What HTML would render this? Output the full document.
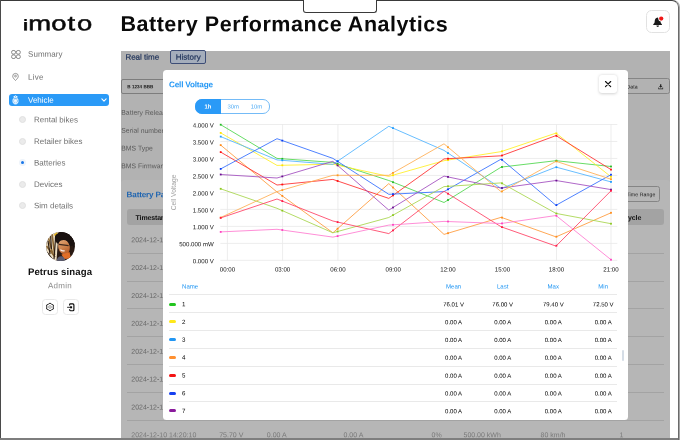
<!DOCTYPE html>
<html lang="en"><head><meta charset="utf-8"><title>Battery Performance Analytics</title>
<style>
html,body{margin:0;padding:0;}
body{width:680px;height:440px;overflow:hidden;background:#fff;position:relative;font-family:"Liberation Sans",sans-serif;}
.t{position:absolute;left:0;top:0;white-space:nowrap;transform-origin:0 0;}
.b{position:absolute;box-sizing:border-box;}
svg{position:absolute;overflow:visible;}
#root{position:absolute;left:0;top:0;width:680px;height:440px;will-change:transform;}
</style></head><body><div id="root">

<div class="t" id="logo" aria-label="imoto" title="imoto" style="left:0;top:0;font-size:20.4px;line-height:25px;color:#0a0a0a;font-weight:400;-webkit-text-stroke:0.5px #0a0a0a;transform-origin:0 0;transform:translate(22.4px,11.3px) rotate(0.03deg) scaleX(1.345);"><span style="letter-spacing:-0.25px">i</span><span style="letter-spacing:0.13px">m</span><span style="letter-spacing:0.8px">o</span><span style="letter-spacing:1.32px">t</span>o</div>
<div class="b" style="left:22.5px;top:13px;width:6px;height:9.2px;background:#fff;"></div>
<div class="b" style="left:24.1px;top:18.5px;width:2.7px;height:2.5px;background:#0a0a0a;border-radius:50%;"></div>
<svg style="left:10.5px;top:50px" width="10" height="9" viewBox="0 0 10 9" fill="none" stroke="#707070" stroke-width="0.8">
<rect x="0.6" y="0.5" width="3.9" height="3.6" rx="1.5"/><rect x="5.4" y="0.5" width="3.9" height="3.6" rx="1.5"/>
<rect x="0.6" y="4.9" width="3.9" height="3.6" rx="1.5"/><rect x="5.4" y="4.9" width="3.9" height="3.6" rx="1.5"/></svg>
<div class="t" style="transform:translate(28px,48.76px) rotate(0.05deg);font-size:8px;line-height:11px;color:#707070;font-weight:400;letter-spacing:0.05px;">Summary</div>
<svg style="left:12px;top:73.4px" width="7" height="8" viewBox="0 0 7 8" fill="none" stroke="#707070" stroke-width="0.7">
<path d="M3.5 7.5 C1.6 5.6 0.7 4.4 0.7 3.2 A2.8 2.8 0 0 1 6.3 3.2 C6.3 4.4 5.4 5.6 3.5 7.5Z"/><circle cx="3.5" cy="3.1" r="0.9"/></svg>
<div class="t" style="transform:translate(28px,71.76px) rotate(0.05deg);font-size:8px;line-height:11px;color:#707070;font-weight:400;letter-spacing:0.25px;">Live</div>
<div class="b" style="left:9px;top:93.8px;width:100.2px;height:12.3px;background:#2a9af7;border-radius:3px;"></div>
<svg style="left:12px;top:95.4px" width="7" height="9.4" viewBox="0 0 7 9.4">
<path d="M3.5 0.2 L6 1.9 L3.5 3.2 L1 1.9Z" fill="#fff"/><circle cx="3.5" cy="1.8" r="0.6" fill="#2a9af7"/>
<circle cx="3.5" cy="5.9" r="3.1" fill="#fff" fill-opacity="0.85"/><circle cx="3.5" cy="5.9" r="2.2" fill="none" stroke="#2a9af7" stroke-width="0.6" stroke-dasharray="1 0.9"/>
<circle cx="3.5" cy="5.3" r="0.55" fill="#fff"/><path d="M2.4 3.6 H4.6" stroke="#2a9af7" stroke-width="0.6"/>
<path d="M2.3 9 H4.7" stroke="#fff" stroke-width="0.7"/></svg>
<div class="t" style="transform:translate(28px,94.66px) rotate(0.05deg);font-size:8px;line-height:11px;color:#fff;font-weight:400;">Vehicle</div>
<svg style="left:101px;top:98px" width="6" height="4.3" viewBox="0 0 7 5" fill="none" stroke="#fff" stroke-width="1.25" stroke-linecap="round" stroke-linejoin="round"><path d="M1 1 L3.5 3.6 L6 1"/></svg>
<div class="b" style="left:19.2px;top:116.1px;width:7px;height:7px;border-radius:50%;background:#ebebeb;border:0.6px solid #e0e0e0;"></div>
<div class="t" style="transform:translate(34px,114.36px) rotate(0.05deg);font-size:8px;line-height:11px;color:#707070;font-weight:400;">Rental bikes</div>
<div class="b" style="left:19.2px;top:137.8px;width:7px;height:7px;border-radius:50%;background:#ebebeb;border:0.6px solid #e0e0e0;"></div>
<div class="t" style="transform:translate(34px,136.06px) rotate(0.05deg);font-size:8px;line-height:11px;color:#707070;font-weight:400;">Retailer bikes</div>
<div class="b" style="left:19.2px;top:159.3px;width:7px;height:7px;border-radius:50%;background:#eef4fb;"></div>
<div class="b" style="left:21.0px;top:161.10000000000002px;width:3.4px;height:3.4px;border-radius:50%;background:#1976e8;"></div>
<div class="t" style="transform:translate(34px,157.56px) rotate(0.05deg);font-size:8px;line-height:11px;color:#707070;font-weight:400;">Batteries</div>
<div class="b" style="left:19.2px;top:180.7px;width:7px;height:7px;border-radius:50%;background:#ebebeb;border:0.6px solid #e0e0e0;"></div>
<div class="t" style="transform:translate(34px,178.96px) rotate(0.05deg);font-size:8px;line-height:11px;color:#707070;font-weight:400;">Devices</div>
<div class="b" style="left:19.2px;top:202.1px;width:7px;height:7px;border-radius:50%;background:#ebebeb;border:0.6px solid #e0e0e0;"></div>
<div class="t" style="transform:translate(34px,200.36px) rotate(0.05deg);font-size:8px;line-height:11px;color:#707070;font-weight:400;">Sim details</div>
<svg style="left:46px;top:232px" width="29" height="29" viewBox="0 0 29 29">
<defs><clipPath id="av"><circle cx="14.5" cy="14.5" r="14.4"/></clipPath>
<linearGradient id="sk" x1="0" y1="0" x2="0.3" y2="1"><stop offset="0" stop-color="#e0a878"/><stop offset="0.55" stop-color="#cf8650"/><stop offset="1" stop-color="#b8602c"/></linearGradient></defs>
<g clip-path="url(#av)">
<rect width="29" height="29" fill="#2a1a13"/>
<path d="M0 0 H12.5 L10.5 29 H0Z" fill="#eadcc0"/>
<path d="M2.5 6 L6.5 21 M6 1 L8.6 23 M0.5 14 L9 25" stroke="#8a6633" stroke-width="1.6" fill="none"/>
<path d="M4.6 3 L5.4 17 M9.8 3 L8 27 M2 9 L4 22 M1 20 L7 28" stroke="#2b1c12" stroke-width="1.2" fill="none"/>
<path d="M7.5 3 L11 0 L12.3 5.5Z" fill="#e6b422"/>
<ellipse cx="19.6" cy="7.2" rx="10.8" ry="7.6" transform="rotate(10 19.6 7.2)" fill="#1a1210"/>
<ellipse cx="18" cy="15" rx="5.7" ry="7.6" transform="rotate(-12 18 15)" fill="url(#sk)"/>
<path d="M10.8 11.2 Q17 4.6 26.5 11.8 L28 18 L29 6 L20 0 L10 4Z" fill="#1a1210"/>
<path d="M13 12.4 L22.6 13.6" stroke="#3e281c" stroke-width="1.1"/>
<path d="M14.4 17.6 Q16.2 19.6 18.6 18.6" stroke="#fbf1ea" stroke-width="1.3" fill="none"/>
<path d="M15.5 22.5 L23.5 20 L25 26.5 L18 27Z" fill="#e06e28"/>
<path d="M10.5 29 Q11.5 24 15.5 24.3 Q18.5 24.8 19.5 29Z" fill="#5c5e72"/>
</g></svg>
<div class="t" style="transform:translate(60px,265.01px) translateX(-50%) rotate(0.05deg);font-size:9.6px;line-height:13px;color:#111;font-weight:700;letter-spacing:0.1px;">Petrus sinaga</div>
<div class="t" style="transform:translate(60px,280.16px) translateX(-50%) rotate(0.05deg);font-size:8px;line-height:11px;color:#8a8a8a;font-weight:400;letter-spacing:0.25px;">Admin</div>
<div class="b" style="left:42.3px;top:299.3px;width:15.6px;height:15.6px;border:1px solid #e8e8e8;border-radius:3.5px;background:#fff;"></div>
<div class="b" style="left:63.2px;top:299.3px;width:15.6px;height:15.6px;border:1px solid #e8e8e8;border-radius:3.5px;background:#fff;"></div>
<svg style="left:45.8px;top:302.9px" width="8" height="8" viewBox="0 0 8 8" fill="none" stroke="#111" stroke-width="0.9">
<path d="M4.00 0.05 L5.60 1.23 L7.42 2.03 L7.20 4.00 L7.42 5.97 L5.60 6.77 L4.00 7.95 L2.40 6.77 L0.58 5.97 L0.80 4.00 L0.58 2.02 L2.40 1.23Z" stroke-linejoin="round"/>
<circle cx="4" cy="4" r="1.35" stroke="#555" stroke-width="0.55"/></svg>
<svg style="left:66px;top:302.6px" width="10" height="9" viewBox="0 0 10 9" fill="none" stroke="#0a0a0a" stroke-width="1.15">
<path d="M3.6 2.4 V1.8 Q3.6 0.9 4.5 0.9 H6.9 Q7.9 0.9 7.9 1.9 V6.7 Q7.9 7.7 6.9 7.7 H4.5 Q3.6 7.7 3.6 6.8 V6.2"/>
<path d="M1.1 4.3 H5" stroke="#333" stroke-width="1"/><rect x="4.1" y="3.3" width="2" height="2" fill="#0a0a0a" stroke="none"/></svg>
<div class="t" style="transform:translate(120.4px,11.10px) rotate(0.05deg);font-size:21.5px;line-height:26px;color:#0a0a0a;font-weight:700;letter-spacing:0.54px;">Battery Performance Analytics</div>
<div class="b" style="left:646.4px;top:10px;width:23.4px;height:23.3px;border:1px solid #e2e2e2;border-radius:5.5px;background:#fff;"></div>
<svg style="left:652px;top:16px" width="13" height="12" viewBox="0 0 13 12">
<path d="M5.6 1.6 C3.6 1.9 2.7 3.6 2.7 5.2 C2.7 7 1.9 7.6 1.2 8.4 V9 H10 V8.4 C9.3 7.6 8.6 7 8.6 5.2 C8.6 4.6 8.5 4.2 8.4 3.8 Z" fill="#1a1a1a"/>
<path d="M4.4 9.6 A1.3 1.3 0 0 0 7 9.6Z" fill="#1a1a1a"/>
<circle cx="9.2" cy="2.6" r="2.9" fill="#fff"/><circle cx="9.2" cy="2.6" r="2.15" fill="#f01818"/></svg>
<div class="b" style="left:121px;top:50.8px;width:549px;height:390px;background:#b2b2b2;"></div>
<div class="t" style="transform:translate(125.4px,51.76px) rotate(0.05deg);font-size:8px;line-height:11px;color:#1c3058;font-weight:400;-webkit-text-stroke:0.2px #1c3058;">Real time</div>
<div class="b" style="left:170.2px;top:50.4px;width:35.8px;height:13.5px;border:1px solid #3d4d76;border-radius:2px;background:#a4adbb;"></div>
<div class="t" style="transform:translate(188.2px,51.76px) translateX(-50%) rotate(0.05deg);font-size:8px;line-height:11px;color:#1c3058;font-weight:400;-webkit-text-stroke:0.2px #1c3058;">History</div>
<div class="b" style="left:121px;top:78.6px;width:60px;height:15px;border:1px solid #7d7d7d;border-radius:2px;background:#b2b2b2;"></div>
<div class="t" style="transform:translate(127.3px,83.19px) rotate(0.05deg);font-size:4.6px;line-height:7px;color:#222;font-weight:700;">B 1234 BBB</div>
<div class="b" style="left:600px;top:78.3px;width:69.6px;height:15.6px;border:1px solid #858585;border-radius:2.5px;background:#b2b2b2;"></div>
<div class="t" style="transform:translate(626.6px,82.59px) rotate(0.05deg);font-size:5.2px;line-height:8px;color:#1a1a1a;font-weight:400;">Data</div>
<svg style="left:657.9px;top:84.1px" width="5.4" height="5.4" viewBox="0 0 6 6" fill="#222"><path d="M2.3 0.2 H3.7 V2.2 H4.9 L3 4.2 L1.1 2.2 H2.3Z"/><path d="M0.3 4 H1 V5.1 H5 V4 H5.7 V5.8 H0.3Z"/></svg>
<div class="t" style="transform:translate(121.3px,107.86px) rotate(0.05deg);font-size:6.85px;line-height:9px;color:#5a5a5a;font-weight:400;">Battery Release</div>
<div class="t" style="transform:translate(121.3px,125.86px) rotate(0.05deg);font-size:6.85px;line-height:9px;color:#5a5a5a;font-weight:400;">Serial number</div>
<div class="t" style="transform:translate(121.3px,143.56px) rotate(0.05deg);font-size:6.85px;line-height:9px;color:#5a5a5a;font-weight:400;">BMS Type</div>
<div class="t" style="transform:translate(121.3px,161.16px) rotate(0.05deg);font-size:6.85px;line-height:9px;color:#5a5a5a;font-weight:400;">BMS Firmware</div>
<div class="b" style="left:121px;top:179.6px;width:549px;height:262px;background:#b6b6b6;border-radius:3px 3px 0 0;"></div>
<div class="t" style="transform:translate(126.6px,189.19px) rotate(0.05deg);font-size:8.1px;line-height:11px;color:#2065b0;font-weight:700;letter-spacing:-0.15px;">Battery Pack</div>
<div class="b" style="left:600px;top:186.1px;width:59.6px;height:15.6px;border:1px solid #858585;border-radius:2.5px;"></div>
<div class="t" style="transform:translate(626.4px,190.19px) rotate(0.05deg);font-size:5.2px;line-height:8px;color:#1a1a1a;font-weight:400;letter-spacing:0.1px;">Time Range</div>
<div class="b" style="left:126.6px;top:209.1px;width:537.4px;height:16.2px;background:#a3a3a3;border-radius:3px;"></div>
<div class="t" style="transform:translate(135.6px,212.91px) rotate(0.05deg);font-size:7.0px;line-height:9px;color:#111;font-weight:700;letter-spacing:-0.15px;">Timestamp</div>
<div class="t" style="transform:translate(623.2px,212.91px) rotate(0.05deg);font-size:7.0px;line-height:9px;color:#111;font-weight:700;letter-spacing:-0.15px;">Cycle</div>
<div class="t" style="transform:translate(131.3px,235.22px) rotate(0.05deg);font-size:7px;line-height:9px;color:#686868;font-weight:400;">2024-12-10 14:20:10</div>
<div class="b" style="left:126.8px;top:252.65px;width:537.5px;height:0.85px;background:#a3a3a3;"></div>
<div class="t" style="transform:translate(131.3px,263.09px) rotate(0.05deg);font-size:7px;line-height:9px;color:#686868;font-weight:400;">2024-12-10 14:20:10</div>
<div class="b" style="left:126.8px;top:280.53000000000003px;width:537.5px;height:0.85px;background:#a3a3a3;"></div>
<div class="t" style="transform:translate(131.3px,290.96px) rotate(0.05deg);font-size:7px;line-height:9px;color:#686868;font-weight:400;">2024-12-10 14:20:10</div>
<div class="b" style="left:126.8px;top:308.41px;width:537.5px;height:0.85px;background:#a3a3a3;"></div>
<div class="t" style="transform:translate(131.3px,318.83px) rotate(0.05deg);font-size:7px;line-height:9px;color:#686868;font-weight:400;">2024-12-10 14:20:10</div>
<div class="b" style="left:126.8px;top:336.29px;width:537.5px;height:0.85px;background:#a3a3a3;"></div>
<div class="t" style="transform:translate(131.3px,346.70px) rotate(0.05deg);font-size:7px;line-height:9px;color:#686868;font-weight:400;">2024-12-10 14:20:10</div>
<div class="b" style="left:126.8px;top:364.17px;width:537.5px;height:0.85px;background:#a3a3a3;"></div>
<div class="t" style="transform:translate(131.3px,374.56px) rotate(0.05deg);font-size:7px;line-height:9px;color:#686868;font-weight:400;">2024-12-10 14:20:10</div>
<div class="b" style="left:126.8px;top:392.05px;width:537.5px;height:0.85px;background:#a3a3a3;"></div>
<div class="t" style="transform:translate(131.3px,402.44px) rotate(0.05deg);font-size:7px;line-height:9px;color:#686868;font-weight:400;">2024-12-10 14:20:10</div>
<div class="b" style="left:126.8px;top:419.93px;width:537.5px;height:0.85px;background:#a3a3a3;"></div>
<div class="t" style="transform:translate(131.3px,430.31px) rotate(0.05deg);font-size:7px;line-height:9px;color:#787878;font-weight:400;">2024-12-10 14:20:10</div>
<div class="t" style="transform:translate(219.2px,430.31px) rotate(0.05deg);font-size:7px;line-height:9px;color:#787878;font-weight:400;">75.70 V</div>
<div class="t" style="transform:translate(266.8px,430.31px) rotate(0.05deg);font-size:7px;line-height:9px;color:#787878;font-weight:400;">0.00 A</div>
<div class="t" style="transform:translate(343.5px,430.31px) rotate(0.05deg);font-size:7px;line-height:9px;color:#787878;font-weight:400;">0.00 A</div>
<div class="t" style="transform:translate(431.5px,430.31px) rotate(0.05deg);font-size:7px;line-height:9px;color:#787878;font-weight:400;">0%</div>
<div class="t" style="transform:translate(463.5px,430.31px) rotate(0.05deg);font-size:7px;line-height:9px;color:#787878;font-weight:400;">500.00 kWh</div>
<div class="t" style="transform:translate(540.6px,430.31px) rotate(0.05deg);font-size:7px;line-height:9px;color:#787878;font-weight:400;">80 km/h</div>
<div class="t" style="transform:translate(619.4px,430.31px) rotate(0.05deg);font-size:7px;line-height:9px;color:#787878;font-weight:400;">1</div>
<div class="b" style="left:163.2px;top:69.5px;width:464.5px;height:350.6px;background:#fff;border-radius:3.5px;"></div>
<div class="t" style="transform:translate(169px,79.13px) rotate(0.05deg);font-size:8.2px;line-height:11px;color:#2598f5;font-weight:700;letter-spacing:-0.2px;">Cell Voltage</div>
<div class="b" style="left:598.8px;top:74.9px;width:18.6px;height:18px;background:#fff;border-radius:3px;box-shadow:0 0.5px 3px rgba(0,0,0,0.18);"></div>
<svg style="left:604.9px;top:80.8px" width="6.2" height="6.2" viewBox="0 0 6.2 6.2" stroke="#111" stroke-width="1.15" stroke-linecap="round"><path d="M0.5 0.5 L5.7 5.7 M5.7 0.5 L0.5 5.7"/></svg>
<div class="b" style="left:195px;top:98.5px;width:75px;height:15.7px;border:1px solid #74bbf7;border-radius:7px;background:#fff;"></div>
<div class="b" style="left:195px;top:98.5px;width:25.6px;height:15.7px;background:#2a9af7;border-radius:7px 0 0 7px;"></div>
<div class="t" style="transform:translate(208px,102.44px) translateX(-50%) rotate(0.05deg);font-size:5.9px;line-height:8px;color:#fff;font-weight:700;">1h</div>
<div class="t" style="transform:translate(233.2px,102.44px) translateX(-50%) rotate(0.05deg);font-size:5.9px;line-height:8px;color:#4fabf5;font-weight:400;">30m</div>
<div class="t" style="transform:translate(256.5px,102.44px) translateX(-50%) rotate(0.05deg);font-size:5.9px;line-height:8px;color:#4fabf5;font-weight:400;">10m</div>
<svg style="left:0;top:0" width="680" height="440" viewBox="0 0 680 440">
<g stroke="#e9e9e9" stroke-width="0.8" fill="none">
<path d="M220.3 124.50 H617.3"/>
<path d="M220.3 141.48 H617.3"/>
<path d="M220.3 158.46 H617.3"/>
<path d="M220.3 175.44 H617.3"/>
<path d="M220.3 192.42 H617.3"/>
<path d="M220.3 209.40 H617.3"/>
<path d="M220.3 226.38 H617.3"/>
<path d="M220.3 243.36 H617.3"/>
<path d="M220.3 260.34 H617.3"/>
<path d="M227.40 124.2 V260.6"/>
<path d="M282.60 124.2 V260.6"/>
<path d="M337.90 124.2 V260.6"/>
<path d="M393.20 124.2 V260.6"/>
<path d="M447.90 124.2 V260.6"/>
<path d="M502.40 124.2 V260.6"/>
<path d="M556.50 124.2 V260.6"/>
<path d="M611.00 124.2 V260.6"/>
</g>
<g fill="none" stroke-width="0.85" stroke-linejoin="round">
<path d="M220.7 124.7 L277.0 158.4 L332.9 162.4 L388.8 180.5 L444.0 202.5 L501.2 167.1 L556.0 160.7 L611.0 166.5" stroke="#4cd64a"/>
<path d="M220.7 132.9 L277.0 165.4 L332.9 164.2 L388.8 176.4 L444.0 160.7 L501.2 151.6 L556.0 133.1 L611.0 176.8" stroke="#ffee22"/>
<path d="M220.7 136.6 L277.0 159.9 L332.9 164.4 L388.8 126.3 L444.0 150.4 L501.2 188.5 L556.0 167.1 L611.0 181.9" stroke="#4db2ff"/>
<path d="M220.7 145.1 L277.0 192.0 L332.9 232.8 L388.8 183.6 L444.0 234.4 L501.2 217.3 L556.0 236.9 L611.0 212.8" stroke="#ff9838"/>
<path d="M220.7 152.1 L277.0 185.0 L332.9 179.4 L388.8 198.4 L444.0 158.9 L501.2 155.8 L556.0 135.6 L611.0 169.6" stroke="#ff2a2a"/>
<path d="M220.7 168.9 L277.0 138.7 L332.9 158.4 L388.8 194.3 L444.0 191.6 L501.2 159.1 L556.0 205.3 L611.0 174.7" stroke="#2f6bff"/>
<path d="M220.7 174.5 L277.0 178.0 L332.9 161.3 L388.8 210.1 L444.0 176.1 L501.2 188.1 L556.0 180.5 L611.0 189.6" stroke="#a04cbe"/>
<path d="M220.7 188.8 L277.0 208.3 L332.9 232.8 L388.8 217.5 L444.0 186.6 L501.2 182.9 L556.0 213.4 L611.0 223.7" stroke="#a6d44a"/>
<path d="M220.7 217.5 L277.0 191.6 L332.9 175.3 L388.8 175.3 L444.0 143.8 L501.2 191.8 L556.0 161.3 L611.0 179.2" stroke="#ffae52"/>
<path d="M220.7 217.9 L277.0 199.0 L332.9 221.0 L388.8 233.6 L444.0 191.2 L501.2 226.8 L556.0 246.1 L611.0 190.8" stroke="#ff3f62"/>
<path d="M220.7 231.9 L277.0 229.3 L332.9 237.1 L388.8 225.1 L444.0 221.4 L501.2 223.5 L556.0 215.5 L611.0 259.7" stroke="#ff7ad0"/>
</g>
<g fill="#22bb22">
<rect x="219.8" y="123.8" width="1.8" height="1.8"/>
<rect x="281.4" y="157.9" width="1.8" height="1.8"/>
<rect x="336.7" y="163.0" width="1.8" height="1.8"/>
<rect x="392.1" y="181.3" width="1.8" height="1.8"/>
<rect x="447.1" y="199.1" width="1.8" height="1.8"/>
<rect x="501.1" y="166.1" width="1.8" height="1.8"/>
<rect x="555.5" y="159.8" width="1.8" height="1.8"/>
<rect x="610.1" y="165.6" width="1.8" height="1.8"/>
</g>
<g fill="#ffe100">
<rect x="219.8" y="132.0" width="1.8" height="1.8"/>
<rect x="281.4" y="164.4" width="1.8" height="1.8"/>
<rect x="336.7" y="164.3" width="1.8" height="1.8"/>
<rect x="392.1" y="174.3" width="1.8" height="1.8"/>
<rect x="447.1" y="159.2" width="1.8" height="1.8"/>
<rect x="501.1" y="150.4" width="1.8" height="1.8"/>
<rect x="555.5" y="132.5" width="1.8" height="1.8"/>
<rect x="610.1" y="175.9" width="1.8" height="1.8"/>
</g>
<g fill="#1e9bff">
<rect x="219.8" y="135.7" width="1.8" height="1.8"/>
<rect x="281.4" y="159.4" width="1.8" height="1.8"/>
<rect x="336.7" y="160.3" width="1.8" height="1.8"/>
<rect x="392.1" y="127.2" width="1.8" height="1.8"/>
<rect x="447.1" y="152.2" width="1.8" height="1.8"/>
<rect x="501.1" y="187.3" width="1.8" height="1.8"/>
<rect x="555.5" y="166.3" width="1.8" height="1.8"/>
<rect x="610.1" y="181.0" width="1.8" height="1.8"/>
</g>
<g fill="#ff8c1a">
<rect x="219.8" y="144.2" width="1.8" height="1.8"/>
<rect x="281.4" y="195.0" width="1.8" height="1.8"/>
<rect x="336.7" y="227.8" width="1.8" height="1.8"/>
<rect x="392.1" y="186.6" width="1.8" height="1.8"/>
<rect x="447.1" y="232.3" width="1.8" height="1.8"/>
<rect x="501.1" y="216.7" width="1.8" height="1.8"/>
<rect x="555.5" y="235.8" width="1.8" height="1.8"/>
<rect x="610.1" y="211.9" width="1.8" height="1.8"/>
</g>
<g fill="#ff1010">
<rect x="219.8" y="151.2" width="1.8" height="1.8"/>
<rect x="281.4" y="183.6" width="1.8" height="1.8"/>
<rect x="336.7" y="180.1" width="1.8" height="1.8"/>
<rect x="392.1" y="194.5" width="1.8" height="1.8"/>
<rect x="447.1" y="157.8" width="1.8" height="1.8"/>
<rect x="501.1" y="154.6" width="1.8" height="1.8"/>
<rect x="555.5" y="134.9" width="1.8" height="1.8"/>
<rect x="610.1" y="168.7" width="1.8" height="1.8"/>
</g>
<g fill="#0a3cf0">
<rect x="219.8" y="168.0" width="1.8" height="1.8"/>
<rect x="281.4" y="139.7" width="1.8" height="1.8"/>
<rect x="336.7" y="160.5" width="1.8" height="1.8"/>
<rect x="392.1" y="193.2" width="1.8" height="1.8"/>
<rect x="447.1" y="188.4" width="1.8" height="1.8"/>
<rect x="501.1" y="158.9" width="1.8" height="1.8"/>
<rect x="555.5" y="204.2" width="1.8" height="1.8"/>
<rect x="610.1" y="173.8" width="1.8" height="1.8"/>
</g>
<g fill="#6a1090">
<rect x="219.8" y="173.6" width="1.8" height="1.8"/>
<rect x="281.4" y="175.5" width="1.8" height="1.8"/>
<rect x="336.7" y="164.5" width="1.8" height="1.8"/>
<rect x="392.1" y="206.6" width="1.8" height="1.8"/>
<rect x="447.1" y="176.0" width="1.8" height="1.8"/>
<rect x="501.1" y="187.1" width="1.8" height="1.8"/>
<rect x="555.5" y="179.7" width="1.8" height="1.8"/>
<rect x="610.1" y="188.7" width="1.8" height="1.8"/>
</g>
<g fill="#8cc820">
<rect x="219.8" y="187.9" width="1.8" height="1.8"/>
<rect x="281.4" y="209.7" width="1.8" height="1.8"/>
<rect x="336.7" y="230.6" width="1.8" height="1.8"/>
<rect x="392.1" y="214.2" width="1.8" height="1.8"/>
<rect x="447.1" y="185.4" width="1.8" height="1.8"/>
<rect x="501.1" y="182.4" width="1.8" height="1.8"/>
<rect x="555.5" y="212.6" width="1.8" height="1.8"/>
<rect x="610.1" y="222.8" width="1.8" height="1.8"/>
</g>
<g fill="#ff9c20">
<rect x="219.8" y="216.6" width="1.8" height="1.8"/>
<rect x="281.4" y="189.2" width="1.8" height="1.8"/>
<rect x="336.7" y="174.4" width="1.8" height="1.8"/>
<rect x="392.1" y="172.0" width="1.8" height="1.8"/>
<rect x="447.1" y="146.3" width="1.8" height="1.8"/>
<rect x="501.1" y="190.5" width="1.8" height="1.8"/>
<rect x="555.5" y="160.5" width="1.8" height="1.8"/>
<rect x="610.1" y="178.3" width="1.8" height="1.8"/>
</g>
<g fill="#ff1744">
<rect x="219.8" y="217.0" width="1.8" height="1.8"/>
<rect x="281.4" y="200.2" width="1.8" height="1.8"/>
<rect x="336.7" y="221.2" width="1.8" height="1.8"/>
<rect x="392.1" y="229.5" width="1.8" height="1.8"/>
<rect x="447.1" y="192.8" width="1.8" height="1.8"/>
<rect x="501.1" y="226.2" width="1.8" height="1.8"/>
<rect x="555.5" y="244.8" width="1.8" height="1.8"/>
<rect x="610.1" y="189.9" width="1.8" height="1.8"/>
</g>
<g fill="#ff40c0">
<rect x="219.8" y="231.0" width="1.8" height="1.8"/>
<rect x="281.4" y="229.1" width="1.8" height="1.8"/>
<rect x="336.7" y="235.2" width="1.8" height="1.8"/>
<rect x="392.1" y="223.9" width="1.8" height="1.8"/>
<rect x="447.1" y="220.6" width="1.8" height="1.8"/>
<rect x="501.1" y="222.5" width="1.8" height="1.8"/>
<rect x="555.5" y="214.9" width="1.8" height="1.8"/>
<rect x="610.1" y="258.8" width="1.8" height="1.8"/>
</g>
<text font-family='"Liberation Sans", sans-serif' font-size="6.7" fill="#a3a3a3" text-anchor="middle" transform="translate(175.6 192.5) rotate(-90)">Cell Voltage</text>
</svg>
<div class="t" style="transform:translate(213.8px,120.48px) translateX(-100%) rotate(0.05deg);font-size:6.1px;line-height:9px;color:#111;font-weight:400;">4.000 V</div>
<div class="t" style="transform:translate(213.8px,137.46px) translateX(-100%) rotate(0.05deg);font-size:6.1px;line-height:9px;color:#111;font-weight:400;">3.500 V</div>
<div class="t" style="transform:translate(213.8px,154.44px) translateX(-100%) rotate(0.05deg);font-size:6.1px;line-height:9px;color:#111;font-weight:400;">3.000 V</div>
<div class="t" style="transform:translate(213.8px,171.42px) translateX(-100%) rotate(0.05deg);font-size:6.1px;line-height:9px;color:#111;font-weight:400;">2.500 V</div>
<div class="t" style="transform:translate(213.8px,188.40px) translateX(-100%) rotate(0.05deg);font-size:6.1px;line-height:9px;color:#111;font-weight:400;">2.000 V</div>
<div class="t" style="transform:translate(213.8px,205.38px) translateX(-100%) rotate(0.05deg);font-size:6.1px;line-height:9px;color:#111;font-weight:400;">1.500 V</div>
<div class="t" style="transform:translate(213.8px,222.36px) translateX(-100%) rotate(0.05deg);font-size:6.1px;line-height:9px;color:#111;font-weight:400;">1.000 V</div>
<div class="t" style="transform:translate(213.8px,239.34px) translateX(-100%) rotate(0.05deg);font-size:6.1px;line-height:9px;color:#111;font-weight:400;">500.000 mW</div>
<div class="t" style="transform:translate(213.8px,256.32px) translateX(-100%) rotate(0.05deg);font-size:6.1px;line-height:9px;color:#111;font-weight:400;">0.000 V</div>
<div class="t" style="transform:translate(227.4px,264.48px) translateX(-50%) rotate(0.05deg);font-size:6.1px;line-height:9px;color:#111;font-weight:400;">00:00</div>
<div class="t" style="transform:translate(282.6px,264.48px) translateX(-50%) rotate(0.05deg);font-size:6.1px;line-height:9px;color:#111;font-weight:400;">03:00</div>
<div class="t" style="transform:translate(337.9px,264.48px) translateX(-50%) rotate(0.05deg);font-size:6.1px;line-height:9px;color:#111;font-weight:400;">06:00</div>
<div class="t" style="transform:translate(393.2px,264.48px) translateX(-50%) rotate(0.05deg);font-size:6.1px;line-height:9px;color:#111;font-weight:400;">09:00</div>
<div class="t" style="transform:translate(447.9px,264.48px) translateX(-50%) rotate(0.05deg);font-size:6.1px;line-height:9px;color:#111;font-weight:400;">12:00</div>
<div class="t" style="transform:translate(502.4px,264.48px) translateX(-50%) rotate(0.05deg);font-size:6.1px;line-height:9px;color:#111;font-weight:400;">15:00</div>
<div class="t" style="transform:translate(556.5px,264.48px) translateX(-50%) rotate(0.05deg);font-size:6.1px;line-height:9px;color:#111;font-weight:400;">18:00</div>
<div class="t" style="transform:translate(611.0px,264.48px) translateX(-50%) rotate(0.05deg);font-size:6.1px;line-height:9px;color:#111;font-weight:400;">21:00</div>
<div class="t" style="transform:translate(182px,281.40px) rotate(0.05deg);font-size:6.1px;line-height:9px;color:#2196f3;font-weight:400;">Name</div>
<div class="t" style="transform:translate(453.6px,281.40px) translateX(-50%) rotate(0.05deg);font-size:6.1px;line-height:9px;color:#2196f3;font-weight:400;">Mean</div>
<div class="t" style="transform:translate(502.7px,281.40px) translateX(-50%) rotate(0.05deg);font-size:6.1px;line-height:9px;color:#2196f3;font-weight:400;">Last</div>
<div class="t" style="transform:translate(553.3px,281.40px) translateX(-50%) rotate(0.05deg);font-size:6.1px;line-height:9px;color:#2196f3;font-weight:400;">Max</div>
<div class="t" style="transform:translate(603.2px,281.40px) translateX(-50%) rotate(0.05deg);font-size:6.1px;line-height:9px;color:#2196f3;font-weight:400;">Min</div>
<div class="b" style="left:169px;top:294.4px;width:448px;height:0.9px;background:#e9e9e9;"></div>
<div class="b" style="left:169.1px;top:302.5px;width:7.1px;height:3px;background:#22c51f;border-radius:1.5px;"></div>
<div class="t" style="transform:translate(182px,299.14px) rotate(0.05deg);font-size:6.2px;line-height:9px;color:#000;font-weight:400;">1</div>
<div class="t" style="transform:translate(453.6px,300.37px) translateX(-50%) rotate(0.05deg);font-size:6px;line-height:8px;color:#000;font-weight:400;">76.01 V</div>
<div class="t" style="transform:translate(502.7px,300.37px) translateX(-50%) rotate(0.05deg);font-size:6px;line-height:8px;color:#000;font-weight:400;">76.00 V</div>
<div class="t" style="transform:translate(553.3px,300.37px) translateX(-50%) rotate(0.05deg);font-size:6px;line-height:8px;color:#000;font-weight:400;">79.40 V</div>
<div class="t" style="transform:translate(603.2px,300.37px) translateX(-50%) rotate(0.05deg);font-size:6px;line-height:8px;color:#000;font-weight:400;">72.50 V</div>
<div class="b" style="left:169px;top:312.21999999999997px;width:448px;height:0.9px;background:#e9e9e9;"></div>
<div class="b" style="left:169.1px;top:320.32px;width:7.1px;height:3px;background:#ffe81a;border-radius:1.5px;"></div>
<div class="t" style="transform:translate(182px,316.96px) rotate(0.05deg);font-size:6.2px;line-height:9px;color:#000;font-weight:400;">2</div>
<div class="t" style="transform:translate(453.6px,318.19px) translateX(-50%) rotate(0.05deg);font-size:6px;line-height:8px;color:#000;font-weight:400;">0.00 A</div>
<div class="t" style="transform:translate(502.7px,318.19px) translateX(-50%) rotate(0.05deg);font-size:6px;line-height:8px;color:#000;font-weight:400;">0.00 A</div>
<div class="t" style="transform:translate(553.3px,318.19px) translateX(-50%) rotate(0.05deg);font-size:6px;line-height:8px;color:#000;font-weight:400;">0.00 A</div>
<div class="t" style="transform:translate(603.2px,318.19px) translateX(-50%) rotate(0.05deg);font-size:6px;line-height:8px;color:#000;font-weight:400;">0.00 A</div>
<div class="b" style="left:169px;top:330.03999999999996px;width:448px;height:0.9px;background:#e9e9e9;"></div>
<div class="b" style="left:169.1px;top:338.14px;width:7.1px;height:3px;background:#2196f3;border-radius:1.5px;"></div>
<div class="t" style="transform:translate(182px,334.78px) rotate(0.05deg);font-size:6.2px;line-height:9px;color:#000;font-weight:400;">3</div>
<div class="t" style="transform:translate(453.6px,336.01px) translateX(-50%) rotate(0.05deg);font-size:6px;line-height:8px;color:#000;font-weight:400;">0.00 A</div>
<div class="t" style="transform:translate(502.7px,336.01px) translateX(-50%) rotate(0.05deg);font-size:6px;line-height:8px;color:#000;font-weight:400;">0.00 A</div>
<div class="t" style="transform:translate(553.3px,336.01px) translateX(-50%) rotate(0.05deg);font-size:6px;line-height:8px;color:#000;font-weight:400;">0.00 A</div>
<div class="t" style="transform:translate(603.2px,336.01px) translateX(-50%) rotate(0.05deg);font-size:6px;line-height:8px;color:#000;font-weight:400;">0.00 A</div>
<div class="b" style="left:169px;top:347.85999999999996px;width:448px;height:0.9px;background:#e9e9e9;"></div>
<div class="b" style="left:169.1px;top:355.96px;width:7.1px;height:3px;background:#ff9030;border-radius:1.5px;"></div>
<div class="t" style="transform:translate(182px,352.60px) rotate(0.05deg);font-size:6.2px;line-height:9px;color:#000;font-weight:400;">4</div>
<div class="t" style="transform:translate(453.6px,353.83px) translateX(-50%) rotate(0.05deg);font-size:6px;line-height:8px;color:#000;font-weight:400;">0.00 A</div>
<div class="t" style="transform:translate(502.7px,353.83px) translateX(-50%) rotate(0.05deg);font-size:6px;line-height:8px;color:#000;font-weight:400;">0.00 A</div>
<div class="t" style="transform:translate(553.3px,353.83px) translateX(-50%) rotate(0.05deg);font-size:6px;line-height:8px;color:#000;font-weight:400;">0.00 A</div>
<div class="t" style="transform:translate(603.2px,353.83px) translateX(-50%) rotate(0.05deg);font-size:6px;line-height:8px;color:#000;font-weight:400;">0.00 A</div>
<div class="b" style="left:169px;top:365.67999999999995px;width:448px;height:0.9px;background:#e9e9e9;"></div>
<div class="b" style="left:169.1px;top:373.78px;width:7.1px;height:3px;background:#f41414;border-radius:1.5px;"></div>
<div class="t" style="transform:translate(182px,370.42px) rotate(0.05deg);font-size:6.2px;line-height:9px;color:#000;font-weight:400;">5</div>
<div class="t" style="transform:translate(453.6px,371.65px) translateX(-50%) rotate(0.05deg);font-size:6px;line-height:8px;color:#000;font-weight:400;">0.00 A</div>
<div class="t" style="transform:translate(502.7px,371.65px) translateX(-50%) rotate(0.05deg);font-size:6px;line-height:8px;color:#000;font-weight:400;">0.00 A</div>
<div class="t" style="transform:translate(553.3px,371.65px) translateX(-50%) rotate(0.05deg);font-size:6px;line-height:8px;color:#000;font-weight:400;">0.00 A</div>
<div class="t" style="transform:translate(603.2px,371.65px) translateX(-50%) rotate(0.05deg);font-size:6px;line-height:8px;color:#000;font-weight:400;">0.00 A</div>
<div class="b" style="left:169px;top:383.5px;width:448px;height:0.9px;background:#e9e9e9;"></div>
<div class="b" style="left:169.1px;top:391.6px;width:7.1px;height:3px;background:#1640f0;border-radius:1.5px;"></div>
<div class="t" style="transform:translate(182px,388.24px) rotate(0.05deg);font-size:6.2px;line-height:9px;color:#000;font-weight:400;">6</div>
<div class="t" style="transform:translate(453.6px,389.47px) translateX(-50%) rotate(0.05deg);font-size:6px;line-height:8px;color:#000;font-weight:400;">0.00 A</div>
<div class="t" style="transform:translate(502.7px,389.47px) translateX(-50%) rotate(0.05deg);font-size:6px;line-height:8px;color:#000;font-weight:400;">0.00 A</div>
<div class="t" style="transform:translate(553.3px,389.47px) translateX(-50%) rotate(0.05deg);font-size:6px;line-height:8px;color:#000;font-weight:400;">0.00 A</div>
<div class="t" style="transform:translate(603.2px,389.47px) translateX(-50%) rotate(0.05deg);font-size:6px;line-height:8px;color:#000;font-weight:400;">0.00 A</div>
<div class="b" style="left:169px;top:401.32px;width:448px;height:0.9px;background:#e9e9e9;"></div>
<div class="b" style="left:169.1px;top:409.42px;width:7.1px;height:3px;background:#8a1a9c;border-radius:1.5px;"></div>
<div class="t" style="transform:translate(182px,406.06px) rotate(0.05deg);font-size:6.2px;line-height:9px;color:#000;font-weight:400;">7</div>
<div class="t" style="transform:translate(453.6px,407.29px) translateX(-50%) rotate(0.05deg);font-size:6px;line-height:8px;color:#000;font-weight:400;">0.00 A</div>
<div class="t" style="transform:translate(502.7px,407.29px) translateX(-50%) rotate(0.05deg);font-size:6px;line-height:8px;color:#000;font-weight:400;">0.00 A</div>
<div class="t" style="transform:translate(553.3px,407.29px) translateX(-50%) rotate(0.05deg);font-size:6px;line-height:8px;color:#000;font-weight:400;">0.00 A</div>
<div class="t" style="transform:translate(603.2px,407.29px) translateX(-50%) rotate(0.05deg);font-size:6px;line-height:8px;color:#000;font-weight:400;">0.00 A</div>
<div class="b" style="left:621.8px;top:350.4px;width:1.8px;height:10.8px;background:#d5dde6;border-radius:1px;"></div>
<div class="b" style="left:0px;top:0px;width:672px;height:1px;background:#3a3a3a;"></div>
<div class="b" style="left:0px;top:0px;width:1px;height:440px;background:#4a4a4a;"></div>
<div class="b" style="left:0px;top:437.8px;width:680px;height:2.2px;background:#7e7e7e;"></div>
<div class="b" style="left:660px;top:0px;width:20px;height:440px;border-right:1px solid #a5a5a5;border-top-right-radius:7px;"></div>
<div class="b" style="left:659px;top:0px;width:20px;height:440px;border-right:1px solid #6a6a6a;border-top:1px solid #3a3a3a;border-top-right-radius:7px;"></div>
<div class="b" style="left:303px;top:-1px;width:73.7px;height:13.6px;background:#fff;border:1px solid #3a3a3a;border-top:none;border-radius:0 0 3px 3px;"></div>
</div></body></html>
